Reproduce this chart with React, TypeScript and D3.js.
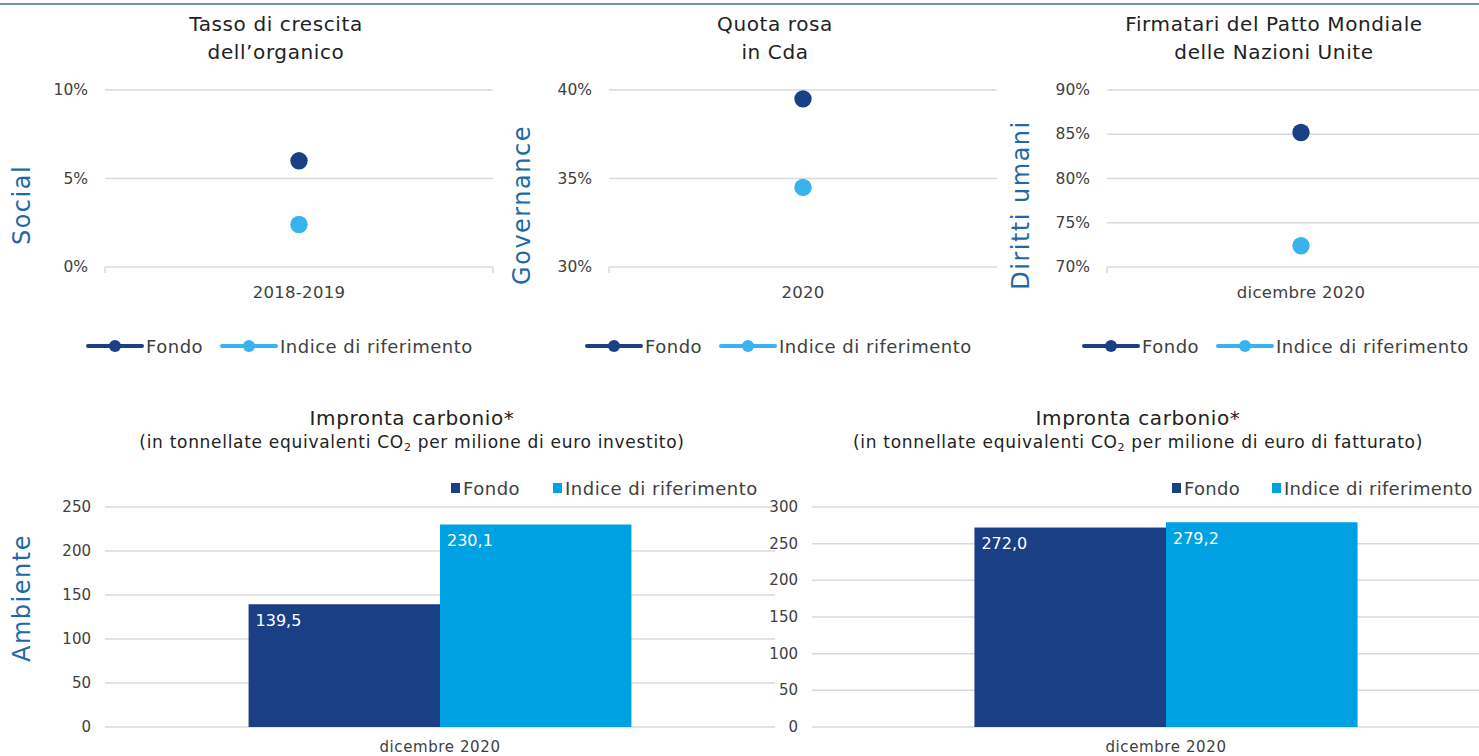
import React, { useRef, useEffect } from "react";
import * as d3 from "d3";

// series
const seriesNames = ["Fondo", "Indice di riferimento"];

// top row: dot charts
const socialCategory = ["2018-2019"];
const socialValues = [6.0, 2.4];
const socialTicks = [0, 5, 10];

const governanceCategory = ["2020"];
const governanceValues = [39.5, 34.5];
const governanceTicks = [30, 35, 40];

const dirittiCategory = ["dicembre 2020"];
const dirittiValues = [85.2, 72.4];
const dirittiTicks = [70, 75, 80, 85, 90];

// bottom row: bar charts
const investitoCategory = ["dicembre 2020"];
const investitoValues = [139.5, 230.1];
const investitoTicks = [0, 50, 100, 150, 200, 250];

const fatturatoCategory = ["dicembre 2020"];
const fatturatoValues = [272.0, 279.2];
const fatturatoTicks = [0, 50, 100, 150, 200, 250, 300];

const FONT = "'DejaVu Sans', sans-serif";
const DARK = "#1b3f84";
const LIGHT_DOT = "#38b3ee";
const LIGHT_BAR = "#00a1e2";
const AXIS_TITLE = "#1f69a9";
const GRID = "#d9d9d9";
const TEXT = "#404040";

const App = () => {
	const chartRef = useRef(null);

	useEffect(() => {
		const width = 1479;
		const svg = d3.select(chartRef.current);
		svg.selectAll("*").remove();

		// top border line
		svg.append("line")
			.attr("x1", 0).attr("x2", width)
			.attr("y1", 4).attr("y2", 4)
			.attr("stroke", "#7390b5").attr("stroke-width", 2);

		const axisTitle = (text, x, y) => {
			svg.append("text")
				.attr("transform", `translate(${x},${y}) rotate(-90)`)
				.attr("text-anchor", "middle")
				.attr("dominant-baseline", "central")
				.attr("font-family", FONT)
				.attr("font-size", 24)
				.attr("letter-spacing", 1.5)
				.attr("fill", AXIS_TITLE)
				.text(text);
		};

		const dotChart = (opts) => {
			const { left, right, titleLines, titleX, category, values, ticks, axisLabel, axisX, legendX, rightTick } = opts;
			const top = 90, bottom = 267;
			const x = d3.scaleBand().domain(category).range([left, left + 388]);
			const y = d3.scaleLinear().domain([ticks[0], ticks[ticks.length - 1]]).range([bottom, top]);
			const g = svg.append("g");

			titleLines.forEach((t, i) => {
				g.append("text")
					.attr("x", titleX).attr("y", 31 + i * 28)
					.attr("text-anchor", "middle")
					.attr("font-family", FONT).attr("font-size", 20)
					.attr("letter-spacing", 0.6)
					.attr("fill", "#222")
					.text(t);
			});

			// grid
			g.selectAll(".grid")
				.data(ticks.slice(1))
				.enter()
				.append("line")
				.attr("x1", left).attr("x2", right)
				.attr("y1", d => y(d)).attr("y2", d => y(d))
				.attr("stroke", GRID).attr("stroke-width", 1.5);

			// baseline
			g.append("line")
				.attr("x1", left).attr("x2", right)
				.attr("y1", bottom).attr("y2", bottom)
				.attr("stroke", GRID).attr("stroke-width", 1.5);
			g.append("line")
				.attr("x1", left).attr("x2", left)
				.attr("y1", bottom).attr("y2", bottom + 6)
				.attr("stroke", GRID).attr("stroke-width", 1.5);
			if (rightTick) {
				g.append("line")
					.attr("x1", right).attr("x2", right)
					.attr("y1", bottom).attr("y2", bottom + 6)
					.attr("stroke", GRID).attr("stroke-width", 1.5);
			}

			g.selectAll(".ylab")
				.data(ticks)
				.enter()
				.append("text")
				.attr("x", left - 17)
				.attr("y", d => y(d))
				.attr("text-anchor", "end")
				.attr("dominant-baseline", "central")
				.attr("font-family", FONT).attr("font-size", 15.5)
				.attr("fill", TEXT)
				.text(d => `${d}%`);

			g.append("text")
				.attr("x", x(category[0]) + x.bandwidth() / 2)
				.attr("y", bottom + 25)
				.attr("text-anchor", "middle")
				.attr("dominant-baseline", "central")
				.attr("font-family", FONT).attr("font-size", 16.5)
				.attr("letter-spacing", 0.3)
				.attr("fill", TEXT)
				.text(category[0]);

			g.selectAll(".dot")
				.data(values)
				.enter()
				.append("circle")
				.attr("cx", x(category[0]) + x.bandwidth() / 2)
				.attr("cy", d => y(d))
				.attr("r", 8.7)
				.attr("fill", (d, i) => (i === 0 ? DARK : LIGHT_DOT));

			axisTitle(axisLabel, axisX, 205);

			// legend
			const ly = 346;
			const offsets = [0, 134];
			seriesNames.forEach((s, i) => {
				const lx = legendX + offsets[i];
				const c = i === 0 ? DARK : LIGHT_DOT;
				g.append("line")
					.attr("x1", lx).attr("x2", lx + 54)
					.attr("y1", ly).attr("y2", ly)
					.attr("stroke", c).attr("stroke-width", 4).attr("stroke-linecap", "round");
				g.append("circle").attr("cx", lx + 27).attr("cy", ly).attr("r", 6).attr("fill", c);
				g.append("text")
					.attr("x", lx + 58).attr("y", ly)
					.attr("dominant-baseline", "central")
					.attr("font-family", FONT).attr("font-size", 18)
					.attr("letter-spacing", 0.5)
					.attr("fill", TEXT)
					.text(s);
			});
		};

		dotChart({
			left: 105, right: 493, titleLines: ["Tasso di crescita", "dell\u2019organico"], titleX: 276,
			category: socialCategory, values: socialValues, ticks: socialTicks,
			axisLabel: "Social", axisX: 22, legendX: 88, rightTick: true
		});
		dotChart({
			left: 609, right: 997, titleLines: ["Quota rosa", "in Cda"], titleX: 775,
			category: governanceCategory, values: governanceValues, ticks: governanceTicks,
			axisLabel: "Governance", axisX: 522, legendX: 587, rightTick: false
		});
		dotChart({
			left: 1107, right: 1479, titleLines: ["Firmatari del Patto Mondiale", "delle Nazioni Unite"], titleX: 1274,
			category: dirittiCategory, values: dirittiValues, ticks: dirittiTicks,
			axisLabel: "Diritti umani", axisX: 1021, legendX: 1084, rightTick: false
		});

		const barChart = (opts) => {
			const { left, right, plotRight, pad, titleX, subtitle, category, values, ticks, legendX, legendGap, legendSpacing } = opts;
			const top = 507, bottom = 727;
			const x = d3.scaleBand().domain(category).range([left, plotRight]).paddingOuter(pad).paddingInner(0);
			const xs = d3.scaleBand().domain(seriesNames).range([0, x.bandwidth()]);
			const y = d3.scaleLinear().domain([0, ticks[ticks.length - 1]]).range([bottom, top]);
			const g = svg.append("g");

			g.append("text")
				.attr("x", titleX).attr("y", 425)
				.attr("text-anchor", "middle")
				.attr("font-family", FONT).attr("font-size", 20)
				.attr("letter-spacing", 0.6)
				.attr("fill", "#222")
				.text("Impronta carbonio*");
			const sub = g.append("text")
				.attr("x", titleX).attr("y", 448)
				.attr("text-anchor", "middle")
				.attr("font-family", FONT).attr("font-size", 17)
				.attr("letter-spacing", 0.7)
				.attr("fill", "#222");
			sub.append("tspan").text("(in tonnellate equivalenti CO");
			sub.append("tspan").attr("font-size", 11).attr("dy", 3).text("2");
			sub.append("tspan").attr("dy", -3).text(subtitle);

			g.selectAll(".grid")
				.data(ticks)
				.enter()
				.append("line")
				.attr("x1", left).attr("x2", right)
				.attr("y1", d => y(d)).attr("y2", d => y(d))
				.attr("stroke", GRID).attr("stroke-width", 1.5);

			g.selectAll(".ylab")
				.data(ticks)
				.enter()
				.append("text")
				.attr("x", left - 14)
				.attr("y", d => y(d))
				.attr("text-anchor", "end")
				.attr("dominant-baseline", "central")
				.attr("font-family", FONT).attr("font-size", 15)
				.attr("fill", TEXT)
				.text(d => d);

			g.selectAll(".bar")
				.data(values)
				.enter()
				.append("rect")
				.attr("x", (d, i) => x(category[0]) + xs(seriesNames[i]))
				.attr("y", d => y(d))
				.attr("width", xs.bandwidth())
				.attr("height", d => bottom - y(d))
				.attr("fill", (d, i) => (i === 0 ? DARK : LIGHT_BAR));

			g.selectAll(".blab")
				.data(values)
				.enter()
				.append("text")
				.attr("x", (d, i) => x(category[0]) + xs(seriesNames[i]) + 7)
				.attr("y", d => y(d) + 16)
				.attr("dominant-baseline", "central")
				.attr("font-family", FONT).attr("font-size", 16)
				.attr("fill", "#fff")
				.text(d => d3.format(".1f")(d).replace(".", ","));

			g.append("text")
				.attr("x", x(category[0]) + x.bandwidth() / 2)
				.attr("y", bottom + 20)
				.attr("text-anchor", "middle")
				.attr("dominant-baseline", "central")
				.attr("font-family", FONT).attr("font-size", 15)
				.attr("letter-spacing", 0.6)
				.attr("fill", TEXT)
				.text(category[0]);

			// legend
			const ly = 488;
			seriesNames.forEach((s, i) => {
				const lx = legendX + (i === 0 ? 0 : legendGap);
				g.append("rect")
					.attr("x", lx).attr("y", ly - 5)
					.attr("width", 9).attr("height", 10)
					.attr("fill", i === 0 ? DARK : LIGHT_BAR);
				g.append("text")
					.attr("x", lx + 12).attr("y", ly)
					.attr("dominant-baseline", "central")
					.attr("font-family", FONT).attr("font-size", 18)
					.attr("letter-spacing", legendSpacing)
					.attr("fill", TEXT)
					.text(s);
			});
		};

		barChart({
			left: 105, right: 775, plotRight: 775, pad: 0.375, titleX: 412, subtitle: " per milione di euro investito)",
			category: investitoCategory, values: investitoValues, ticks: investitoTicks,
			legendX: 451, legendGap: 102, legendSpacing: 0.5
		});
		axisTitle("Ambiente", 22, 598);
		barChart({
			left: 812, right: 1479, plotRight: 1520, pad: 0.424, titleX: 1138, subtitle: " per milione di euro di fatturato)",
			category: fatturatoCategory, values: fatturatoValues, ticks: fatturatoTicks,
			legendX: 1172, legendGap: 100, legendSpacing: 0.3
		});
	}, []);

	return (
		<svg
			ref={chartRef}
			width={1479}
			height={756}
			style={{ position: "absolute", left: 0, top: 0, background: "#fff" }}
		></svg>
	);
};

export default App;
